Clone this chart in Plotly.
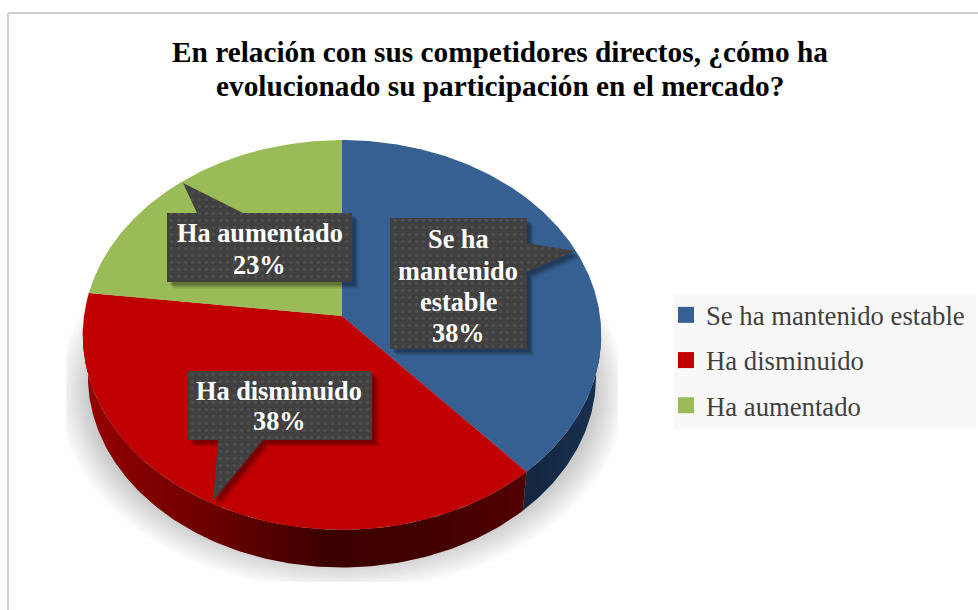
import numpy as np
import plotly.graph_objects as go

categories = ["Se ha mantenido estable", "Ha disminuido", "Ha aumentado"]
values = [38.46, 38.46, 23.08]
top_colors = ["#366092", "#C00000", "#9BBB59"]
title_lines = ["En relación con sus competidores directos, ¿cómo ha",
               "evolucionado su participación en el mercado?"]
callout_lines = [["Se ha", "mantenido", "estable"], ["Ha disminuido"], ["Ha aumentado"]]

W, H = 978, 610
CX, CY, SX, C, K = 342.0, 316.0, 258.0, 193.0, 0.097
DROP, SHRINK = 42.0, 0.98
SERIF = "Liberation Serif"


def top_xy(deg, shrink=1.0, drop=0.0):
    """Perspective projection of a circle, angle clockwise from 12 o'clock."""
    t = np.radians(deg)
    x, y = np.sin(t), np.cos(t)
    d = 1 + K * y
    return CX + shrink * SX * x / d, CY + drop - shrink * C * y / d


fig = go.Figure()


def poly(x, y, color=None, **kw):
    tr = dict(x=x, y=y, mode="lines", fill="toself", line=dict(width=0),
              hoverinfo="skip", showlegend=False)
    if color:
        tr["fillcolor"] = color
    tr.update(kw)
    fig.add_trace(go.Scatter(**tr))


# soft clipped drop shadow
a = np.radians(np.linspace(0, 360, 240))
for e in np.linspace(23, -8, 26):
    x = np.clip(CX + (262 + e) * np.cos(a), 66, 618)
    y = np.minimum(392 + (177 + e) * np.sin(a), 582)
    poly(x, y, "rgba(0,0,0,0.0095)")

# wedge edges from the values
edges = np.concatenate([[0], np.cumsum(values) / np.sum(values) * 360])

# extruded side walls
side_blue = np.linspace(93, edges[1], 60)
side_red = np.linspace(edges[1], 267, 160)
for degs, scale in [
    (side_blue, [[0, "#14263f"], [1, "#17304f"]]),
    (side_red, [[0, "#960000"], [0.12, "#840000"], [0.3, "#6a0000"],
                [0.55, "#3c0000"], [0.8, "#420000"], [1, "#520000"]]),
]:
    x1, y1 = top_xy(degs)
    x2, y2 = top_xy(degs, SHRINK, DROP)
    poly(np.r_[x1, x2[::-1]], np.r_[y1, y2[::-1]],
         fillgradient=dict(type="horizontal", colorscale=scale))

# top faces
for i, col in enumerate(top_colors):
    degs = np.linspace(edges[i], edges[i + 1], 200)
    x, y = top_xy(degs)
    poly(np.r_[CX, x, CX], np.r_[CY, y, CY], col)

# callouts: outlines of box + pointer
outlines = [
    [(390, 218), (527, 218), (527, 243), (575, 251), (527, 272), (527, 349), (390, 349)],
    [(188, 371), (372, 371), (372, 440), (263, 440), (213, 501), (218, 440), (188, 440)],
    [(167, 213), (197, 213), (183, 183), (243, 213), (352, 213), (352, 282), (167, 282)],
]
text_rows = [[239, 271, 302, 333], [391, 421], [233, 265]]
text_cx = [458, 279, 259.5]
for pts in outlines:
    px, py = map(np.array, zip(*pts))
    px, py = np.r_[px, px[0]], np.r_[py, py[0]]
    for off, alpha in [(7, 0.05), (6, 0.07), (5, 0.09), (4, 0.1), (3, 0.12)]:
        poly(px + off, py + off, f"rgba(0,0,0,{alpha})")
    poly(px, py, "#404040",
         fillpattern=dict(shape=".", bgcolor="#404040", fgcolor="#4e4e4e",
                          size=7, solidity=0.2, fillmode="replace"))

annotations = []
for i, cat in enumerate(categories):
    rows = callout_lines[i] + [f"{round(values[i])}%"]
    for line, yy in zip(rows, text_rows[i]):
        annotations.append(dict(x=text_cx[i], y=yy, text=f"<b>{line}</b>", showarrow=False,
                                font=dict(family=SERIF, size=26.3, color="white"),
                                xanchor="center", yanchor="middle"))
for line, yy in zip(title_lines, [52, 86]):
    annotations.append(dict(x=500, y=yy, text=f"<b>{line}</b>", showarrow=False,
                            font=dict(family=SERIF, size=29.3, color="black"),
                            xanchor="center", yanchor="middle"))

# legend entries
for i, (cat, col) in enumerate(zip(categories, top_colors)):
    fig.add_trace(go.Scatter(x=[None], y=[None], mode="markers", name=cat, legendgroup=cat,
                             marker=dict(symbol="square", size=16, color=col)))

shapes = [
    dict(type="rect", x0=674, x1=976, y0=294, y1=429, fillcolor="#f8f8f8", line_width=0, layer="below"),
    dict(type="line", x0=8, x1=8, y0=13, y1=H, line=dict(color="#cfcfcf", width=2), layer="below"),
    dict(type="line", x0=8, x1=W, y0=13, y1=13, line=dict(color="#cfcfcf", width=2), layer="below"),
]

fig.update_layout(
    width=W, height=H, autosize=False, margin=dict(l=0, r=0, t=0, b=0),
    paper_bgcolor="white", plot_bgcolor="white",
    xaxis=dict(range=[0, W], visible=False, fixedrange=True),
    yaxis=dict(range=[H, 0], visible=False, fixedrange=True),
    shapes=shapes, annotations=annotations,
    legend=dict(x=666 / W, y=1 - 291 / H, xanchor="left", yanchor="top",
                bgcolor="rgba(0,0,0,0)", borderwidth=0, tracegroupgap=7.5,
                font=dict(family=SERIF, size=26.7, color="#404040"), itemclick=False,
                itemdoubleclick=False),
    hovermode=False,
)

fig.write_html("out.html", config=dict(displayModeBar=False),
               post_script="document.body.style.margin='0';document.body.style.overflow='hidden';")
